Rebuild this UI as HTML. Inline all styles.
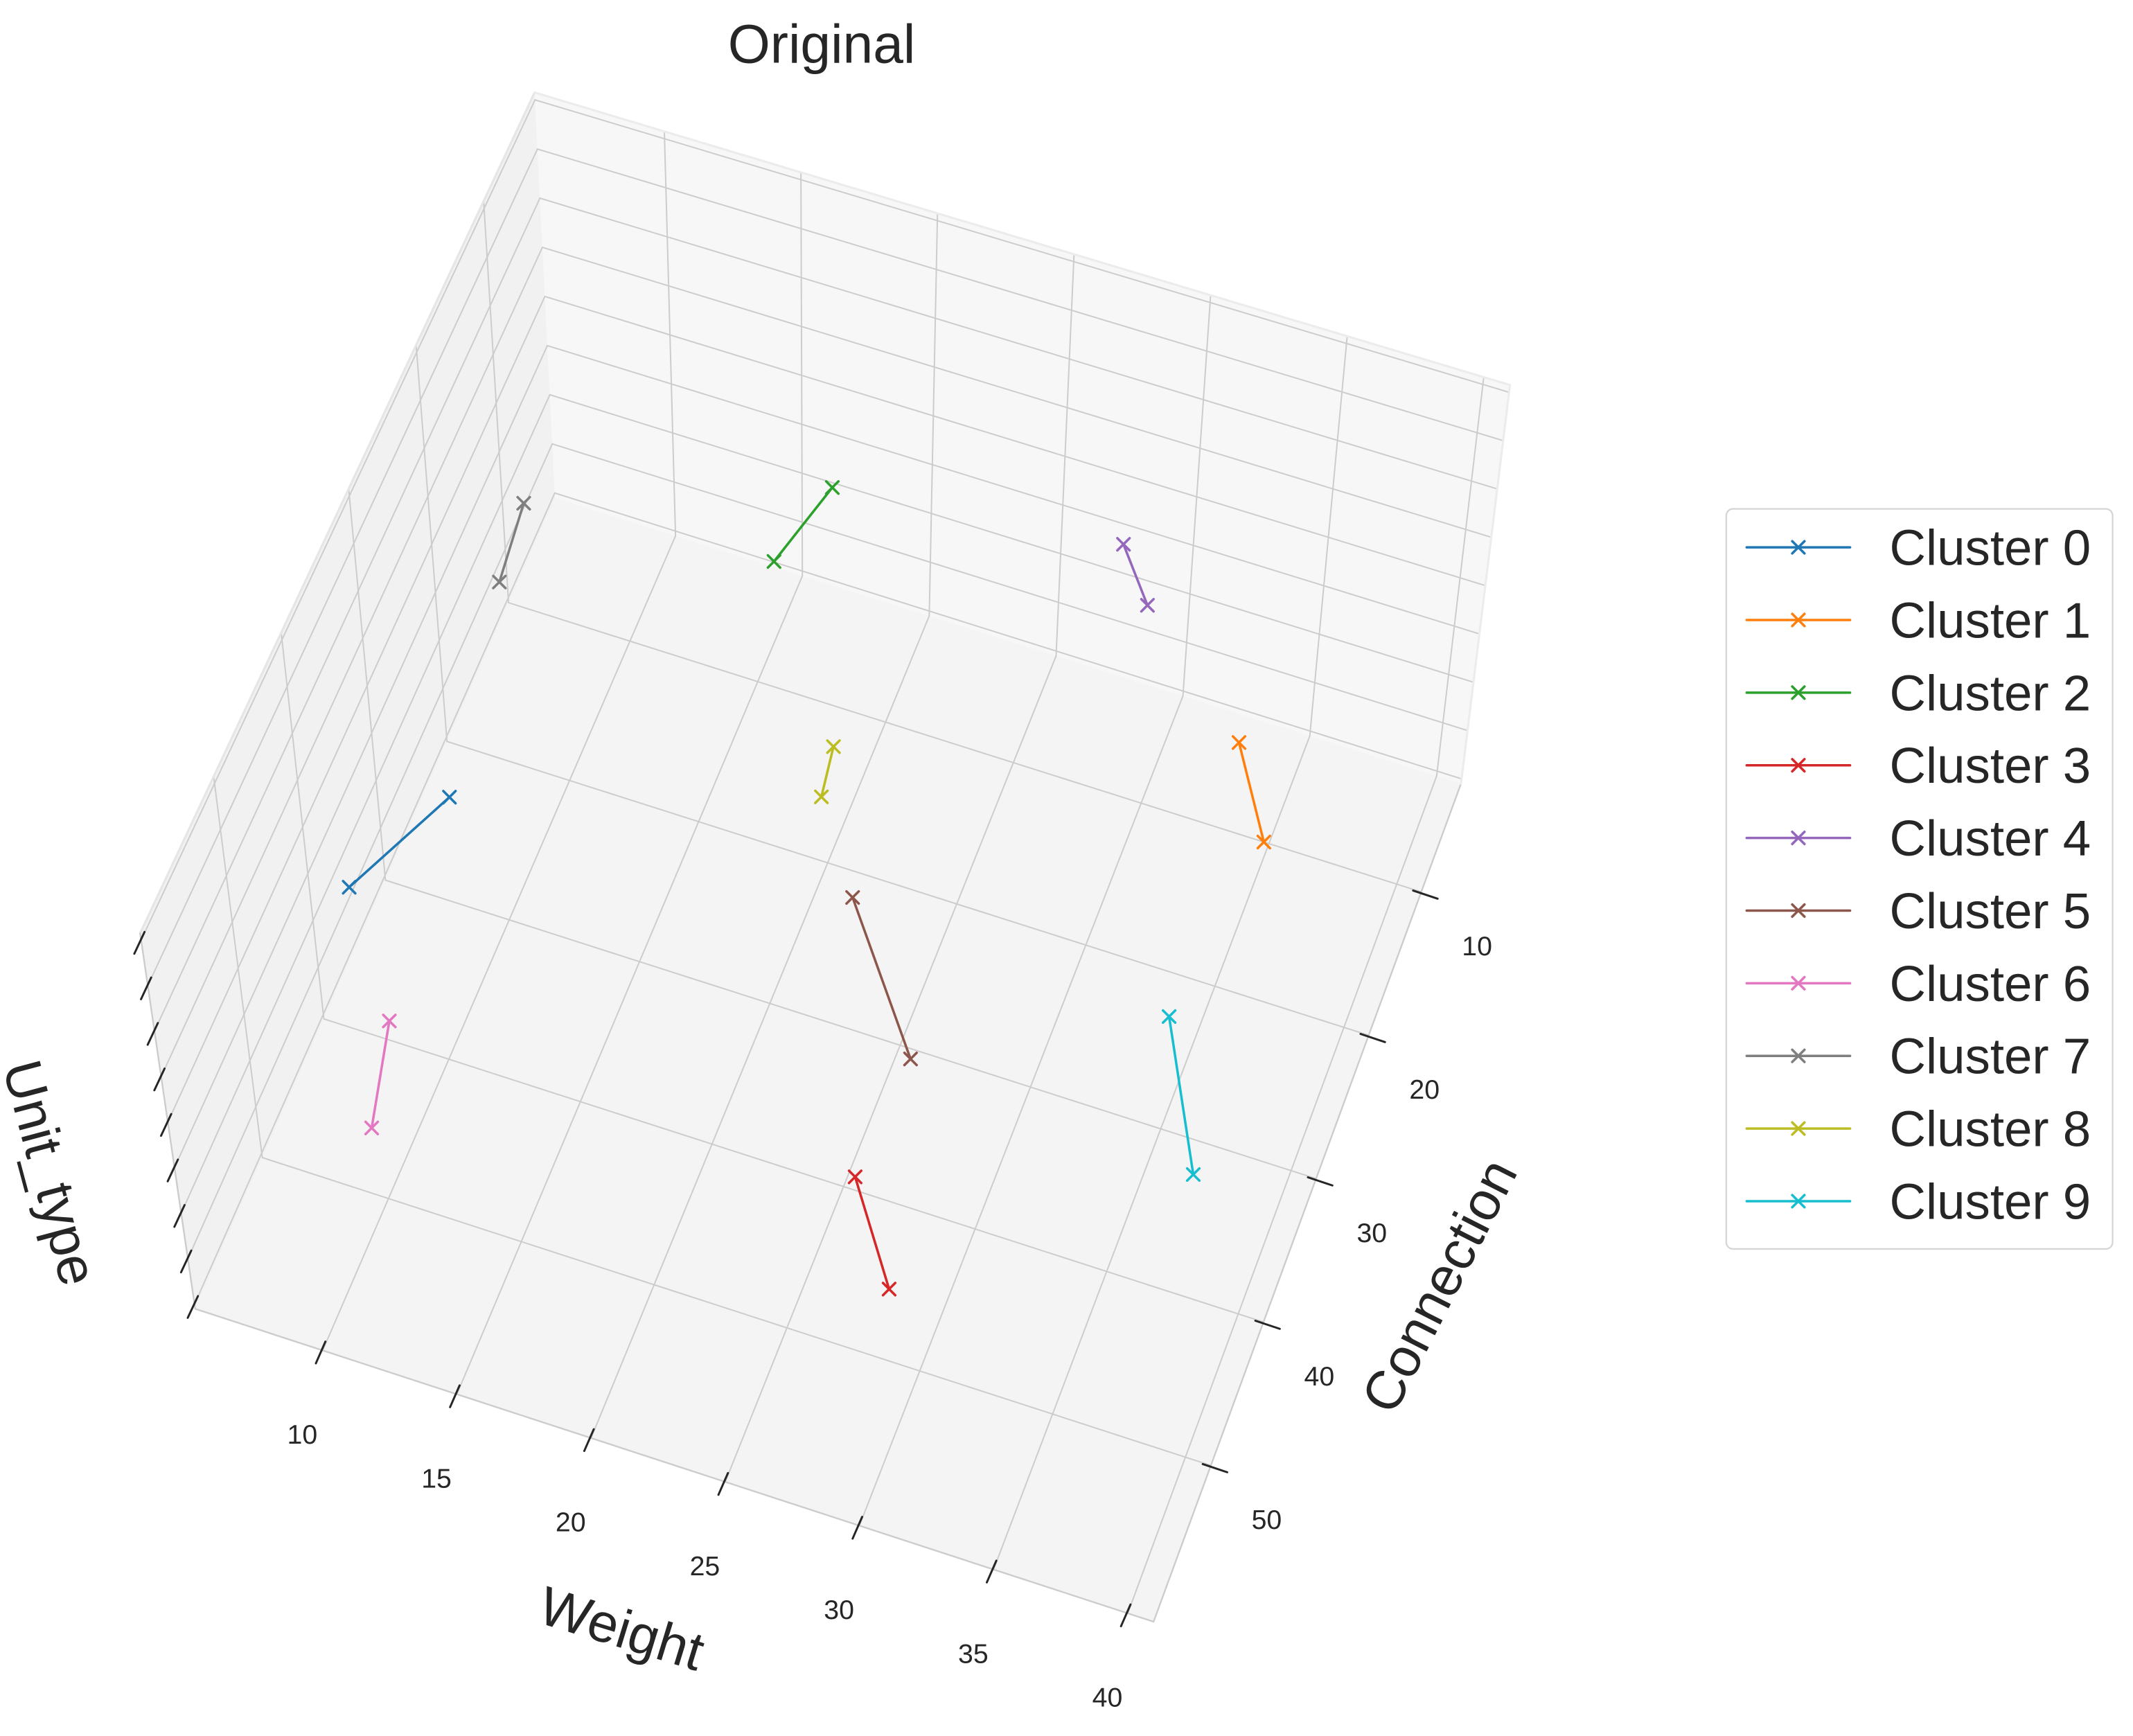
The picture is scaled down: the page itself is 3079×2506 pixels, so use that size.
<!DOCTYPE html>
<html><head><meta charset="utf-8"><title>Original</title>
<style>html,body{margin:0;padding:0;background:#fff;}svg{display:block;}text{font-family:"Liberation Sans",Arial,sans-serif;fill:#262626;}</style>
</head><body>
<svg id="chart" xmlns="http://www.w3.org/2000/svg" width="3079" height="2506" viewBox="0 0 1568 1276" preserveAspectRatio="none">
<rect x="0" y="0" width="1568" height="1276" fill="#ffffff"/>
<g id="panes"></g>
<g id="grid"></g>
<g id="edges"></g>
<g id="ticks"></g>
<g id="series"></g>
<text x="604" y="46" text-anchor="middle" font-size="40">Original</text>
<text transform="translate(457,1197) rotate(17)" text-anchor="middle" dominant-baseline="central" font-size="40">Weight</text>
<text transform="translate(1058,945) rotate(-63)" text-anchor="middle" dominant-baseline="central" font-size="40">Connection</text>
<text transform="translate(37,862) rotate(75)" text-anchor="middle" dominant-baseline="central" font-size="40">Unit_type</text>
<g id="legend">
<rect x="1269" y="374" width="284" height="544" rx="5" fill="#ffffff" stroke="#d6d6d6" stroke-width="1.2"/>
</g>
</svg>
<script>
const clusterNames = ["Cluster 0","Cluster 1","Cluster 2","Cluster 3","Cluster 4","Cluster 5","Cluster 6","Cluster 7","Cluster 8","Cluster 9"];
const clusterColors = ["#1f77b4","#ff7f0e","#2ca02c","#d62728","#9467bd","#8c564b","#e377c2","#7f7f7f","#bcbd22","#17becf"];
const weightA = [4.14, 32.6, 13.8, 25.26, 25.8, 21.34, 7.46, 4.25, 18.55, 33.82];
const connA   = [31.18, 4.26, 2.1, 39.16, -5.9, 21.68, 38.8, 3.41, 12.58, 22.81];
const weightB = [6.17, 34.8, 14.74, 27.9, 27.5, 25.54, 8.43, 4.62, 18.85, 36.7];
const connB   = [23.47, 10.0, -3.72, 45.5, -2.54, 30.65, 45.9, 8.88, 15.98, 32.2];
const weightTicks = [10, 15, 20, 25, 30, 35, 40];
const connTicks = [10, 20, 30, 40, 50];
const zTicks = [0, 1, 2, 3, 4, 5, 6, 7, 8];

const W_MIN = 5.25, W_MAX = 40.96, C_MIN = 2.45, C_MAX = 60.9, Z_MIN = -0.1, Z_MAX = 8.15;
const NS = "http://www.w3.org/2000/svg";
const K = {
  A:[408,366], B:[1074,576], C:[848,1192], D:[143.5,962],
  A2:[393,68], B2:[1110,283], C2:[858.5,921], D2:[103,686]
};
function lerp(p,q,t){return [p[0]+(q[0]-p[0])*t, p[1]+(q[1]-p[1])*t];}
function proj(w,c,z){
  const u=(w-W_MIN)/(W_MAX-W_MIN), v=(c-C_MIN)/(C_MAX-C_MIN), t=(z-Z_MIN)/(Z_MAX-Z_MIN);
  const b0=lerp(lerp(K.A,K.B,u),lerp(K.D,K.C,u),v);
  const b1=lerp(lerp(K.A2,K.B2,u),lerp(K.D2,K.C2,u),v);
  return lerp(b0,b1,t);
}
function mk(tag,attrs,parent){const e=document.createElementNS(NS,tag);for(const k in attrs)e.setAttribute(k,attrs[k]);parent.appendChild(e);return e;}
function line(p,q,stroke,sw,parent){return mk('line',{x1:p[0],y1:p[1],x2:q[0],y2:q[1],stroke:stroke,'stroke-width':sw,'stroke-linecap':'round'},parent);}
function pts(a){return a.map(p=>p[0]+','+p[1]).join(' ');}

const panes=document.getElementById('panes');
let e;
e=mk('polygon',{points:pts([proj(W_MIN,C_MIN,Z_MIN),proj(W_MAX,C_MIN,Z_MIN),proj(W_MAX,C_MIN,Z_MAX),proj(W_MIN,C_MIN,Z_MAX)]),fill:'#f7f7f7'},panes);


e=mk('polygon',{points:pts([proj(W_MIN,C_MIN,Z_MIN),proj(W_MIN,C_MAX,Z_MIN),proj(W_MIN,C_MAX,Z_MAX),proj(W_MIN,C_MIN,Z_MAX)]),fill:'#f1f1f1'},panes);


e=mk('polygon',{points:pts([proj(W_MIN,C_MIN,Z_MIN),proj(W_MAX,C_MIN,Z_MIN),proj(W_MAX,C_MAX,Z_MIN),proj(W_MIN,C_MAX,Z_MIN)]),fill:'#f4f4f4'},panes);



const grid=document.getElementById('grid');
const GC='#cccccc', GW=1.0;
weightTicks.forEach(w=>{
  let g=line(proj(w,C_MIN,Z_MIN),proj(w,C_MAX,Z_MIN),GC,GW,grid);
  
  
  g=line(proj(w,C_MIN,Z_MIN),proj(w,C_MIN,Z_MAX),GC,GW,grid);
  
  
});
connTicks.forEach(c=>{
  let g=line(proj(W_MIN,c,Z_MIN),proj(W_MAX,c,Z_MIN),GC,GW,grid);
  
  
  g=line(proj(W_MIN,c,Z_MIN),proj(W_MIN,c,Z_MAX),GC,GW,grid);
  
  
});
zTicks.forEach(z=>{
  let g=line(proj(W_MIN,C_MIN,z),proj(W_MAX,C_MIN,z),GC,GW,grid);
  
  
  g=line(proj(W_MIN,C_MIN,z),proj(W_MIN,C_MAX,z),GC,GW,grid);
  
  
});

const edges=document.getElementById('edges');
e=line(proj(W_MIN,C_MAX,Z_MIN),proj(W_MAX,C_MAX,Z_MIN),'#cccccc',1.2,edges);


e=line(proj(W_MAX,C_MIN,Z_MIN),proj(W_MAX,C_MAX,Z_MIN),'#cccccc',1.2,edges);


e=line(proj(W_MIN,C_MIN,Z_MAX),proj(W_MIN,C_MAX,Z_MAX),'#e6e6e6',1.6,edges);


e=line(proj(W_MIN,C_MIN,Z_MAX),proj(W_MAX,C_MIN,Z_MAX),'#ececec',1.6,edges);


e=line(proj(W_MAX,C_MIN,Z_MIN),proj(W_MAX,C_MIN,Z_MAX),'#ececec',1.6,edges);


e=line(proj(W_MIN,C_MAX,Z_MIN),proj(W_MIN,C_MAX,Z_MAX),'#cccccc',1.2,edges);



const ticks=document.getElementById('ticks');
weightTicks.forEach(w=>{
  const p=proj(w,C_MAX,Z_MIN);
  let t=line([p[0]+2,p[1]-6.5],[p[0]-5,p[1]+9.5],'#262626',1.5,ticks);
  
  
  let l=mk('text',{x:p[0]-15,y:p[1]+62,'text-anchor':'middle','dominant-baseline':'central','font-size':20},ticks);
  l.textContent=String(w);
  
  
});
connTicks.forEach(c=>{
  const p=proj(W_MAX,c,Z_MIN);
  let t=line([p[0]-6,p[1]-1],[p[0]+12,p[1]+5],'#262626',1.5,ticks);
  
  
  let l=mk('text',{x:p[0]+41,y:p[1]+40,'text-anchor':'middle','dominant-baseline':'central','font-size':20},ticks);
  l.textContent=String(c);
  
  
});
zTicks.forEach(z=>{
  const p=proj(W_MIN,C_MAX,z);
  let t=line([p[0]+2.5,p[1]-6],[p[0]-5,p[1]+10],'#262626',1.5,ticks);
  
  
});

const series=document.getElementById('series');
function marker(p,color,parent){
  const g=mk('g',{},parent);
  line([p[0]-4.5,p[1]-4.5],[p[0]+4.5,p[1]+4.5],color,1.8,g);
  line([p[0]-4.5,p[1]+4.5],[p[0]+4.5,p[1]-4.5],color,1.8,g);
  return g;
}
clusterNames.forEach((name,i)=>{
  const g=mk('g',{},series);
  
  
  const p=proj(weightA[i],connA[i],Z_MIN), q=proj(weightB[i],connB[i],Z_MIN);
  let l=line(p,q,clusterColors[i],1.8,g);
  
  
  let m=marker(p,clusterColors[i],g);
  
  
  m=marker(q,clusterColors[i],g);
  
  
});

const legend=document.getElementById('legend');
clusterNames.forEach((name,i)=>{
  const y=402.3+i*53.4;
  const g=mk('g',{},legend);
  
  
  line([1284,y],[1360,y],clusterColors[i],1.8,g);
  marker([1322,y],clusterColors[i],g);
  const t=mk('text',{x:1389,y:y+13,'font-size':37},g);
  t.textContent=name;
  
  
});
</script>
</body></html>
